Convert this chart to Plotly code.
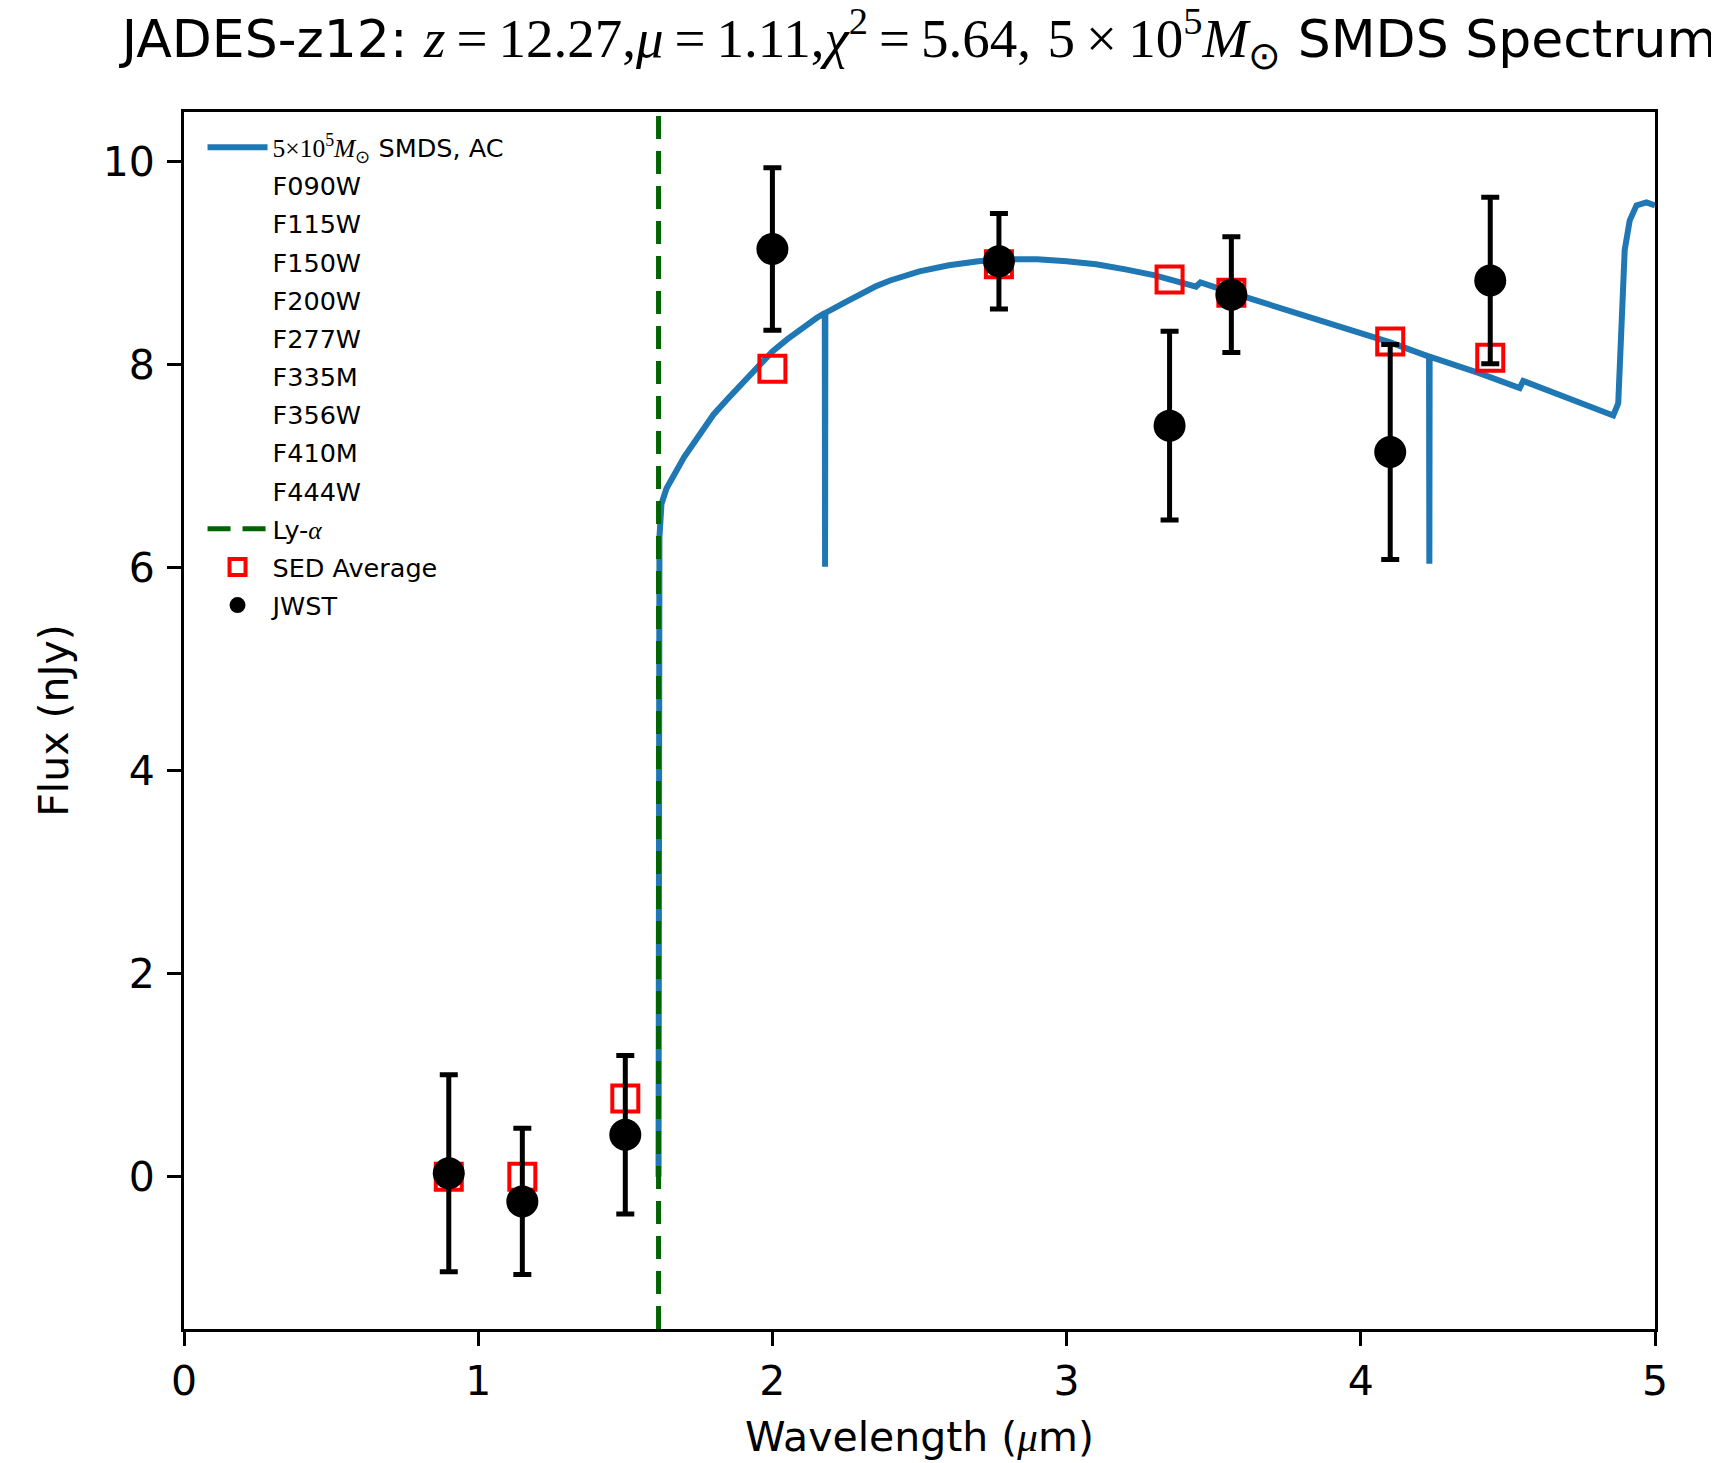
import plotly.graph_objects as go

# ---------------- data ----------------
filters = ["F090W", "F115W", "F150W", "F200W", "F277W", "F335M", "F356W", "F410M", "F444W"]
filter_wl = [0.90, 1.15, 1.50, 2.00, 2.77, 3.35, 3.56, 4.10, 4.44]
jwst_flux = [0.035, -0.243, 0.414, 9.14, 9.02, 7.40, 8.69, 7.14, 8.83]
jwst_err = [0.97, 0.72, 0.78, 0.80, 0.47, 0.93, 0.57, 1.06, 0.82]
sed_avg = [0.0, 0.0, 0.77, 7.96, 8.99, 8.84, 8.71, 8.23, 8.07]

spec_wl = [1.613, 1.616, 1.623, 1.640, 1.70, 1.75, 1.80, 1.85, 1.90, 1.95,
           2.00, 2.05, 2.10, 2.15, 2.178, 2.179, 2.180, 2.25, 2.30, 2.35,
           2.40, 2.45, 2.50, 2.60, 2.70, 2.80, 2.90, 3.00, 3.10, 3.20,
           3.30, 3.44, 3.455, 3.56, 3.70, 3.85, 4.00, 4.10, 4.232, 4.233,
           4.234, 4.40, 4.54, 4.552, 4.70, 4.858, 4.875, 4.885, 4.897, 4.914,
           4.937, 4.971, 5.0]
spec_flux = [0.0, 6.30, 6.63, 6.78, 7.09, 7.31, 7.51, 7.67, 7.82, 7.97,
             8.13, 8.25, 8.36, 8.46, 8.51, 6.01, 8.51, 8.62, 8.70, 8.77,
             8.83, 8.88, 8.92, 8.98, 9.02, 9.04, 9.04, 9.02, 8.99, 8.94,
             8.88, 8.77, 8.81, 8.71, 8.58, 8.44, 8.31, 8.22, 8.08, 6.04,
             8.08, 7.92, 7.77, 7.84, 7.67, 7.50, 7.62, 8.20, 9.13, 9.42,
             9.57, 9.60, 9.57]

lya_wl = 1.613
y_range = [-1.5, 10.49]
x_range = [0, 5]
x_ticks = [0, 1, 2, 3, 4, 5]
y_ticks = [0, 2, 4, 6, 8, 10]

SERIF = "Liberation Serif"
SANS = "DejaVu Sans"
TS = "\u2009"  # thin space for math operators

fig = go.Figure()

fig.add_trace(go.Scatter(
    x=spec_wl, y=spec_flux, mode="lines",
    line=dict(color="#1f77b4", width=6),
    name=f"<span style='font-family:{SERIF}'>5×10<sup>5</sup><i>M</i><sub>⊙</sub></span> SMDS, AC",
    legendgroup="g0",
))

for i, f in enumerate(filters):
    fig.add_trace(go.Scatter(
        x=[None], y=[None], mode="lines",
        line=dict(color="rgba(0,0,0,0)", width=1),
        name=f, legendgroup=f"g{i+1}",
    ))

fig.add_trace(go.Scatter(
    x=[lya_wl, lya_wl], y=y_range, mode="lines",
    line=dict(color="#006400", width=5, dash="23px,12px"),
    name=f"Ly-<span style='font-family:{SERIF}'><i>α</i></span>",
    legendgroup="g10",
))

fig.add_trace(go.Scatter(
    x=filter_wl, y=sed_avg, mode="markers",
    marker=dict(symbol="square-open", size=26, color="red", line=dict(color="red", width=4)),
    name="SED Average", legendgroup="g11",
))

fig.add_trace(go.Scatter(
    x=filter_wl, y=jwst_flux, mode="markers",
    marker=dict(symbol="circle", size=32, color="black"),
    error_y=dict(type="data", array=jwst_err, visible=True, color="black", thickness=5, width=9),
    name="JWST", legendgroup="g12",
))

MS = f"font-family:{SERIF};font-size:55px"
title_text = (f"JADES-z12: <span style='{MS}'><i>z</i>{TS}={TS}12.27,<i>μ</i>{TS}={TS}1.11,"
              f"<i>χ</i><sup>2</sup>{TS}={TS}5.64,</span> "
              f"<span style='{MS}'>5{TS}×{TS}10<sup>5</sup><i>M</i><sub>⊙</sub></span> SMDS Spectrum")

fig.update_layout(
    width=1719, height=1463,
    margin=dict(l=176, r=72, t=104, b=142),
    paper_bgcolor="white", plot_bgcolor="white",
    font=dict(family=SANS, color="black", size=41),
    title=dict(
        text=title_text,
        x=0.5, xanchor="center", xref="paper",
        y=1 - 31 / 1463, yanchor="middle", yref="container",
        font=dict(family=SANS, size=52, color="black"),
    ),
    showlegend=True,
    legend=dict(
        x=0.0126, y=0.99, xanchor="left", yanchor="top",
        bgcolor="rgba(0,0,0,0)", borderwidth=0,
        font=dict(family=SANS, size=25.5, color="black"),
        traceorder="grouped", tracegroupgap=2,
        itemwidth=60,
    ),
)

fig.update_xaxes(
    range=x_range, tickvals=x_ticks, ticktext=[str(t) for t in x_ticks],
    showgrid=False, zeroline=False,
    showline=True, mirror=True, linecolor="black", linewidth=2.7,
    ticks="outside", ticklen=14, tickwidth=2.7, tickcolor="black",
    tickfont=dict(size=41, family=SANS),
    title=dict(text=f"Wavelength (<span style='font-family:{SERIF}'><i>μ</i></span>m)",
               font=dict(size=41, family=SANS), standoff=19),
)
fig.update_yaxes(
    range=y_range, tickvals=y_ticks, ticktext=[str(t) for t in y_ticks],
    showgrid=False, zeroline=False,
    showline=True, mirror=True, linecolor="black", linewidth=2.7,
    ticks="outside", ticklen=14, tickwidth=2.7, tickcolor="black",
    tickfont=dict(size=41, family=SANS), ticklabelstandoff=4,
    title=dict(text="Flux (nJy)", font=dict(size=41, family=SANS), standoff=22),
)

fig.write_html("out.html")
